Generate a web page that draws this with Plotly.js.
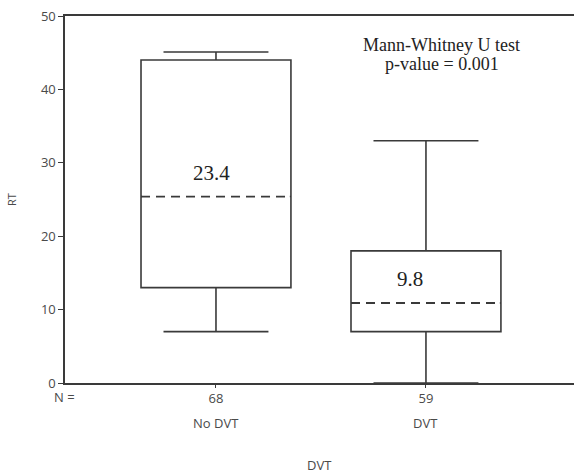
<!DOCTYPE html>
<html>
<head>
<meta charset="utf-8">
<script src="https://cdn.plot.ly/plotly-3.0.1.min.js"></script>
<style>html,body{margin:0;padding:0;background:#fff;}#chart{width:574px;height:475px;}</style>
</head>
<body>
<div id="chart"></div>
<script>
// Data
const groups = ['No DVT', 'DVT'];
const counts = [68, 59];
const lowerWhisker = [7, 0];
const q1 = [13, 7];
const median = [25.4, 10.9];
const q3 = [44, 18];
const upperWhisker = [45.1, 33];
const valueLabels = ['23.4', '9.8'];
const yTicks = [0, 10, 20, 30, 40, 50];

const pos = groups.map((g, i) => i + 1);
const boxW = 0.714;
const lineCol = '#3a3a3a';

const boxTrace = {
  type: 'box',
  x: pos,
  q1: q1, median: median, q3: q3,
  lowerfence: lowerWhisker, upperfence: upperWhisker,
  width: boxW,
  whiskerwidth: 0.7,
  fillcolor: 'rgba(255,255,255,0)',
  line: {color: lineCol, width: 1.6},
  hoverinfo: 'skip',
  showlegend: false
};

// cover the solid median, then draw dashed
const mx = [], my = [], cx = [], cy = [];
pos.forEach((p, i) => {
  cx.push(p - boxW / 2 * 0.985, p + boxW / 2 * 0.985, null);
  cy.push(median[i], median[i], null);
  mx.push(p - boxW / 2, p + boxW / 2, null);
  my.push(median[i], median[i], null);
});
const cover = {type: 'scatter', mode: 'lines', x: cx, y: cy, line: {color: '#ffffff', width: 4}, hoverinfo: 'skip', showlegend: false};
const dashed = {type: 'scatter', mode: 'lines', x: mx, y: my, line: {color: lineCol, width: 1.8, dash: '9px,6px'}, hoverinfo: 'skip', showlegend: false};

const gray = '#4a4a4a';
const sans = 'Open Sans, Noto Sans, sans-serif';
const serif = 'Liberation Serif, Times New Roman, serif';

const annotations = [
  {xref: 'paper', yref: 'paper', x: 0.74, y: 0.92, xanchor: 'center', yanchor: 'middle',
   text: 'Mann-Whitney U test', showarrow: false, font: {family: serif, size: 18, color: '#222'}},
  {xref: 'paper', yref: 'paper', x: 0.74, y: 0.869, xanchor: 'center', yanchor: 'middle',
   text: 'p-value = 0.001', showarrow: false, font: {family: serif, size: 18, color: '#222'}},
  {xref: 'x', yref: 'y', x: pos[0] - 0.02, y: 28.6, text: valueLabels[0], showarrow: false,
   font: {family: serif, size: 21, color: '#222'}},
  {xref: 'x', yref: 'y', x: pos[1] - 0.075, y: 14.2, text: valueLabels[1], showarrow: false,
   font: {family: serif, size: 21, color: '#222'}},
  {xref: 'paper', yref: 'paper', x: -0.0255, y: -0.038, xanchor: 'left', yanchor: 'middle', text: 'N =',
   showarrow: false, font: {family: sans, size: 13, color: gray}},
  {xref: 'paper', yref: 'paper', x: 0.5, y: -0.224, xanchor: 'center', yanchor: 'middle', text: 'DVT',
   showarrow: false, font: {family: sans, size: 13, color: gray}}
];
groups.forEach((g, i) => annotations.push({
  xref: 'x', yref: 'paper', x: pos[i], y: -0.109, xanchor: 'center', yanchor: 'middle', text: g,
  showarrow: false, font: {family: sans, size: 13, color: gray}
}));

const layout = {
  width: 574, height: 475,
  margin: {l: 65, r: 0, t: 16, b: 92},
  paper_bgcolor: '#ffffff', plot_bgcolor: '#ffffff',
  showlegend: false,
  xaxis: {
    range: [0.281, 2.705],
    tickvals: pos,
    ticktext: counts.map(String),
    ticks: 'outside', ticklen: 3, tickcolor: lineCol,
    showline: true, linecolor: lineCol, linewidth: 1.6, mirror: true,
    showgrid: false, zeroline: false,
    tickfont: {family: sans, size: 13, color: gray}
  },
  yaxis: {
    range: [0, 50],
    tickvals: yTicks,
    ticks: 'outside', ticklen: 5, tickcolor: lineCol,
    showline: true, linecolor: lineCol, linewidth: 1.6,
    showgrid: false, zeroline: false,
    tickfont: {family: sans, size: 13, color: gray},
    title: {text: 'RT', font: {family: sans, size: 11, color: gray}, standoff: 22}
  },
  annotations: annotations
};

Plotly.newPlot('chart', [boxTrace, cover, dashed], layout, {staticPlot: true, displayModeBar: false});
</script>
</body>
</html>
